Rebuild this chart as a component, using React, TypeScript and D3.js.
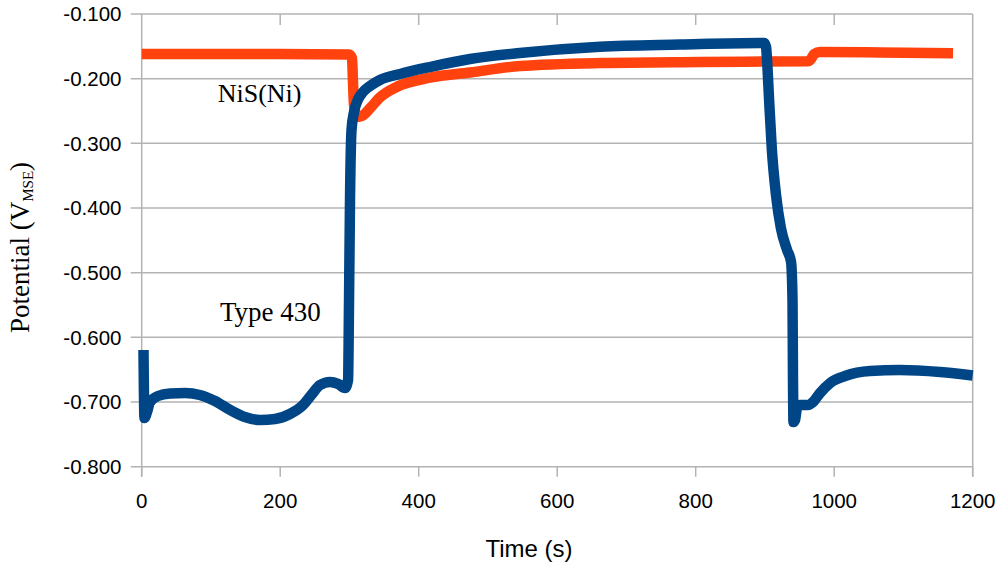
import React from 'react';
import * as d3 from 'd3';

const xTicks = [0, 200, 400, 600, 800, 1000, 1200];
const yTicks = [-0.1, -0.2, -0.3, -0.4, -0.5, -0.6, -0.7, -0.8];

// NiS(Ni) series (time s, potential V)
const nisT = [0, 156, 299.4, 303.7, 305, 306.6, 311, 318, 330, 344, 368.7, 416, 474, 546, 662, 806, 962, 966.6, 971, 979.6, 1066, 1171.6];
const nisV = [-0.1619, -0.1619, -0.1626, -0.168, -0.202, -0.2407, -0.2593, -0.2577, -0.2454, -0.229, -0.2125, -0.1985, -0.1905, -0.1804, -0.1758, -0.1742, -0.1731, -0.1696, -0.162, -0.1588, -0.1595, -0.1608];

// Type 430 series
const t430T = [2.6, 4, 7.7, 12, 23.5, 40.9, 62.5, 84, 105.8, 127.6, 149, 171, 192.5, 214, 233, 246, 257.5, 272, 283.5, 293.6, 298, 299.4, 300.8, 303, 306.6, 312, 319.6, 329.7, 344, 373, 416, 474, 546, 662, 777.6, 893, 899, 901.6, 903, 906, 910, 916, 923, 932, 937.7, 939.8, 940.5, 941.2, 943.4, 946.3, 950.6, 962, 969.5, 979.6, 994, 1015.6, 1051.6, 1095, 1153, 1200];
const t430V = [-0.6196, -0.7247, -0.7154, -0.70, -0.6907, -0.6868, -0.686, -0.6891, -0.6984, -0.7123, -0.7232, -0.7278, -0.7263, -0.7185, -0.7046, -0.6876, -0.6737, -0.669, -0.672, -0.6783, -0.666, -0.542, -0.3876, -0.279, -0.2515, -0.233, -0.2206, -0.2113, -0.202, -0.1928, -0.182, -0.1696, -0.1603, -0.1506, -0.1472, -0.1448, -0.1448, -0.151, -0.171, -0.233, -0.31, -0.38, -0.431, -0.465, -0.4835, -0.542, -0.666, -0.731, -0.728, -0.709, -0.7046, -0.7046, -0.70, -0.686, -0.6706, -0.6598, -0.652, -0.6505, -0.6536, -0.659];

const SANS = '"Liberation Sans", Arial, sans-serif';
const SERIF = '"Liberation Serif", "Times New Roman", serif';

export default function App() {
  const x = d3.scaleLinear().domain([0, 1200]).range([141.7, 972.7]);
  const y = d3.scaleLinear().domain([-0.8, -0.1]).range([466.7, 14]);
  const line = d3
    .line<[number, number]>()
    .x((d) => x(d[0]))
    .y((d) => y(d[1]))
    .curve(d3.curveMonotoneX);
  const nis = nisT.map((t, i) => [t, nisV[i]] as [number, number]);
  const t430 = t430T.map((t, i) => [t, t430V[i]] as [number, number]);
  const grid = '#b3b3b3';
  const x0 = x(0), x1 = x(1200), yTop = y(-0.1), yBot = y(-0.8);

  return (
    <svg width={1001} height={567} style={{ position: 'absolute', left: 0, top: 0, background: '#fff' }}>
      {yTicks.map((v) => (
        <g key={v}>
          <line x1={x0 - 11} x2={x1} y1={y(v)} y2={y(v)} stroke={grid} strokeWidth={1.5} />
          <text x={121.5} y={y(v)} dy="0.35em" textAnchor="end" fontFamily={SANS} fontSize={20.5} fill="#000">
            {v.toFixed(3)}
          </text>
        </g>
      ))}
      {xTicks.map((t) => (
        <g key={t}>
          <line x1={x(t)} x2={x(t)} y1={yBot} y2={yBot + 10} stroke={grid} strokeWidth={1.5} />
          {t > 0 && t < 1200 && <line x1={x(t)} x2={x(t)} y1={yTop} y2={yTop + 11} stroke={grid} strokeWidth={1.5} />}
          <text x={x(t)} y={508} textAnchor="middle" fontFamily={SANS} fontSize={20.5} fill="#000">
            {t}
          </text>
        </g>
      ))}
      <line x1={x0} x2={x0} y1={yTop} y2={yBot + 10} stroke={grid} strokeWidth={1.5} />
      <line x1={x1} x2={x1} y1={yTop} y2={yBot + 10} stroke={grid} strokeWidth={1.5} />

      <path d={line(nis) || ''} fill="none" stroke="#ff420e" strokeWidth={10.5} strokeLinejoin="round" strokeLinecap="butt" />
      <path d={line(t430) || ''} fill="none" stroke="#004586" strokeWidth={10.5} strokeLinejoin="round" strokeLinecap="butt" />

      <text x={217.7} y={101.7} fontFamily={SERIF} fontSize={26} fill="#000">NiS(Ni)</text>
      <text x={220} y={321} fontFamily={SERIF} fontSize={27} fill="#000">Type 430</text>

      <text x={529} y={556.7} textAnchor="middle" fontFamily={SANS} fontSize={24} fill="#000">Time (s)</text>
      <text transform="translate(29,333) rotate(-90)" fontFamily={SERIF} fontSize={27} fill="#000">
        Potential (V
        <tspan fontSize={15} dy={4}>MSE</tspan>
        <tspan dy={-4}>)</tspan>
      </text>
    </svg>
  );
}
